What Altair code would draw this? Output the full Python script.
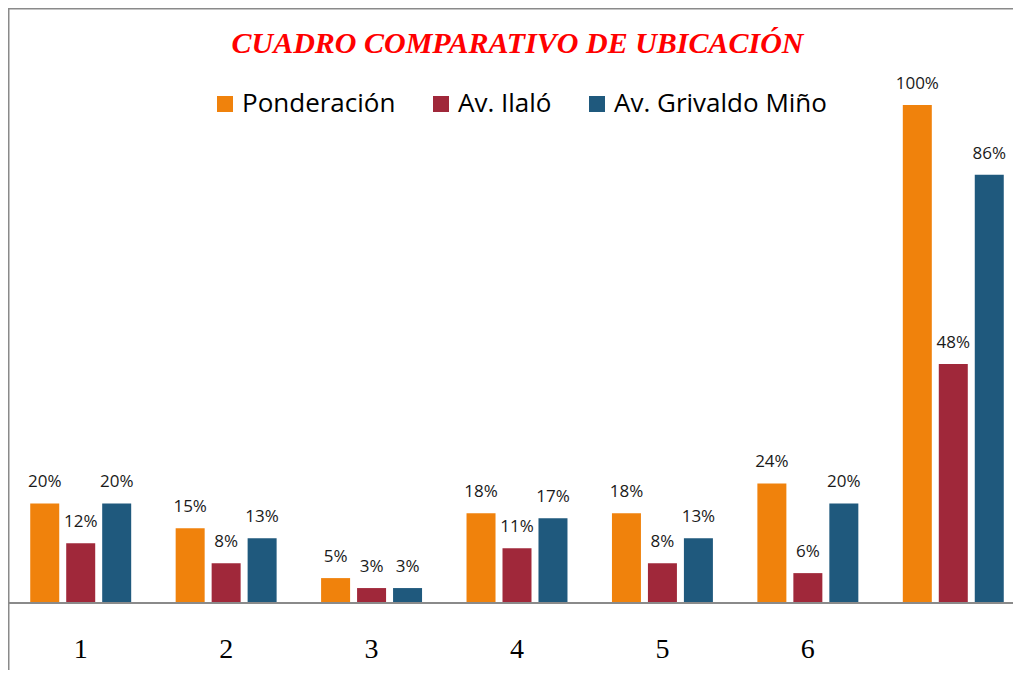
import altair as alt
import pandas as pd

categories = ["1", "2", "3", "4", "5", "6", "7"]
series_names = ["Ponderación", "Av. Ilaló", "Av. Grivaldo Miño"]
ponderacion = [20, 15, 5, 18, 18, 24, 100]
av_ilalo = [12, 8, 3, 11, 8, 6, 48]
av_grivaldo = [20, 13, 3, 17, 13, 20, 86]
colors = ["#F0820C", "#A0283A", "#1F597D"]
title_text = "CUADRO COMPARATIVO DE UBICACIÓN"

rows = []
for name, vals in zip(series_names, [ponderacion, av_ilalo, av_grivaldo]):
    for c, v in zip(categories, vals):
        rows.append({"grupo": c, "serie": name, "valor": v, "etiqueta": f"{v}%"})
df = pd.DataFrame(rows)

W = 1005
H = 595
TOTAL_H = 662

x_enc = alt.X(
    "grupo:N",
    sort=categories,
    scale=alt.Scale(range=[0, 1018], paddingInner=0, paddingOuter=0),
    axis=alt.Axis(
        title=None, domain=False, ticks=False, tickSize=0, labelAngle=0,
        labelFont="Liberation Serif", labelFontSize=28, labelColor="#000000",
        labelPadding=54, labelBaseline="alphabetic",
        labelExpr="datum.value == '7' ? '' : datum.value",
    ),
)
xoff_enc = alt.XOffset(
    "serie:N", sort=series_names,
    scale=alt.Scale(domain=series_names, paddingInner=0.194, paddingOuter=0.618),
)
y_enc = alt.Y("valor:Q", scale=alt.Scale(domain=[0, 119.48], nice=False, zero=True), axis=None)

base = alt.Chart(df)

bars = base.mark_bar().encode(
    x=x_enc,
    xOffset=xoff_enc,
    y=y_enc,
    color=alt.Color(
        "serie:N", sort=series_names,
        scale=alt.Scale(domain=series_names, range=colors),
        legend=alt.Legend(
            title=None, orient="none", legendX=204, legendY=83,
            direction="horizontal", symbolType="square", symbolSize=256,
            symbolStrokeWidth=0, labelFont="Open Sans", labelFontSize=26,
            labelColor="#000000", labelOffset=4, columnPadding=32, padding=0,
            labelLimit=0,
        ),
    ),
)

labels = base.mark_text(
    dy=-16, baseline="alphabetic", align="center",
    font="Open Sans", fontSize=17, color="#1a1a1a",
).encode(x=x_enc, xOffset=xoff_enc, y=y_enc, text="etiqueta:N")

one = pd.DataFrame({"t": [title_text]})

title = alt.Chart(one).mark_text(
    font="Liberation Serif", fontSize=30, fontStyle="italic", fontWeight="bold",
    color="#FF0000", align="center", baseline="alphabetic",
).encode(x=alt.value(509.5), y=alt.value(45), text="t:N")

baseline = alt.Chart(one).mark_rule(color="#8a8a8a", strokeWidth=2).encode(
    x=alt.value(0), x2=alt.value(W), y=alt.datum(0)
)

frame_left = alt.Chart(one).mark_rule(color="#8a8a8a", strokeWidth=1.5).encode(
    x=alt.value(0.75), y=alt.value(0), y2=alt.value(TOTAL_H)
)
frame_top = alt.Chart(one).mark_rule(color="#8a8a8a", strokeWidth=1.5).encode(
    x=alt.value(0), x2=alt.value(W), y=alt.value(0.75)
)

chart = alt.layer(frame_left, frame_top, bars, labels, baseline, title).properties(
    width=W,
    height=H,
    autosize=alt.AutoSizeParams(type="none"),
    padding={"left": 0, "top": 0, "right": 0, "bottom": TOTAL_H - H},
    background="#FFFFFF",
).configure_view(stroke=None)

chart.save("out.html", embed_options={"renderer": "svg", "actions": False})
